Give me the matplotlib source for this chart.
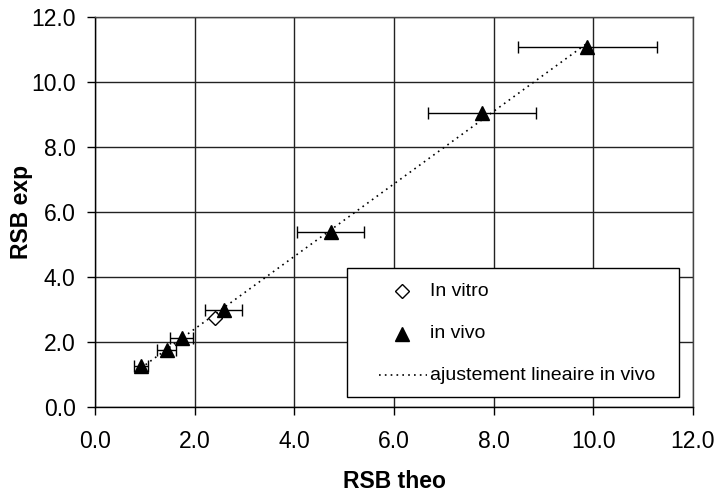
import numpy as np
import matplotlib
matplotlib.use("Agg")
import matplotlib.pyplot as plt
from matplotlib.lines import Line2D
from matplotlib.patches import Rectangle

plt.rcParams['font.family'] = ['Liberation Sans', 'DejaVu Sans']

# in vivo data
vivo_x = [0.92, 1.44, 1.74, 2.58, 4.73, 7.77, 9.88]
vivo_y = [1.27, 1.75, 2.11, 2.98, 5.38, 9.05, 11.08]
vivo_xerr = [0.14, 0.19, 0.23, 0.37, 0.67, 1.08, 1.39]
# in vitro data
vitro_x = [2.41]
vitro_y = [2.73]

x_ticks = [0, 2, 4, 6, 8, 10, 12]
y_ticks = [0, 2, 4, 6, 8, 10, 12]
tick_labels = ["0.0", "2.0", "4.0", "6.0", "8.0", "10.0", "12.0"]
legend_labels = ['In vitro', 'in vivo', 'ajustement lineaire in vivo']

W, H = 717, 493
fig = plt.figure(figsize=(W/100, H/100), dpi=100)
ax = fig.add_axes([95/W, 1-407/H, (693-95)/W, (407-17)/H])

ax.set_xlim(0, 12)
ax.set_ylim(0, 12)
ax.set_xticks(x_ticks)
ax.set_yticks(y_ticks)
ax.set_xticklabels(tick_labels)
ax.set_yticklabels(tick_labels)
ax.grid(True, color='#222222', linewidth=1.0)
ax.set_axisbelow(True)
for s in ax.spines.values():
    s.set_color('#444444')
    s.set_linewidth(1.0)
ax.spines['left'].set_color('black')
ax.spines['bottom'].set_color('black')
ax.tick_params(axis='both', direction='out', length=5.5, width=1, labelsize=16.5)
ax.tick_params(axis='y', pad=8.5)
ax.tick_params(axis='x', pad=11)

# linear fit for in vivo
coef = np.polyfit(vivo_x, vivo_y, 1)
fx = np.array([min(vivo_x), max(vivo_x)])
ax.plot(fx, np.polyval(coef, fx), linestyle=(0, (1, 2.5)), color='black', linewidth=1.2, zorder=3)

ax.errorbar(vivo_x, vivo_y, xerr=vivo_xerr, fmt='^', color='black', markersize=10,
            ecolor='black', elinewidth=1.0, capsize=4, capthick=1.0, zorder=4)
ax.plot(vitro_x, vitro_y, 'D', markerfacecolor='white', markeredgecolor='black',
        markersize=7, markeredgewidth=1.0, zorder=4)

ax.set_xlabel('RSB theo', fontsize=16.5, fontweight='bold')
ax.set_ylabel('RSB exp', fontsize=16.5, fontweight='bold')
ax.xaxis.set_label_coords(0.5, (407-470)/390)
ax.yaxis.set_label_coords((33-95)/598, 0.5)

# manual legend (pixel positions converted to figure fraction)
def fx_(x):
    return x / W

def fy_(y):
    return 1 - y / H

fig.patches.append(Rectangle((fx_(347), fy_(397)), (679-347)/W, (397-268)/H,
                             transform=fig.transFigure, facecolor='white',
                             edgecolor='black', linewidth=1.0, zorder=5))
rows = [291, 334, 375]
fig.lines.append(Line2D([fx_(402)], [fy_(rows[0])], marker='D', linestyle='none',
                        markerfacecolor='white', markeredgecolor='black', markersize=7,
                        transform=fig.transFigure, zorder=6))
fig.lines.append(Line2D([fx_(402)], [fy_(rows[1])], marker='^', linestyle='none',
                        color='black', markersize=10, transform=fig.transFigure, zorder=6))
fig.lines.append(Line2D([fx_(379), fx_(427)], [fy_(rows[2]), fy_(rows[2])],
                        linestyle=(0, (1, 2.5)), color='black', linewidth=1.2,
                        transform=fig.transFigure, zorder=6))
for r, lab in zip(rows, legend_labels):
    fig.text(fx_(430), fy_(r), lab, fontsize=14, va='center', ha='left', zorder=7)

fig.savefig('out.png', dpi=100)
